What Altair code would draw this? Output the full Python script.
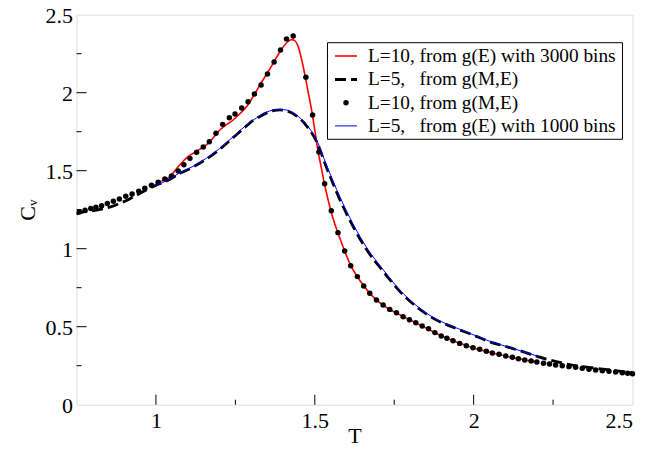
import altair as alt
import pandas as pd

# ---- data ----
dots_T = [0.759, 0.777, 0.795, 0.811, 0.829, 0.847, 0.866, 0.885, 0.905, 0.925,
          0.946, 0.965, 0.986, 1.007, 1.028, 1.049, 1.070, 1.088, 1.107, 1.128,
          1.149, 1.168, 1.189, 1.210, 1.231, 1.249, 1.270, 1.290, 1.310, 1.331,
          1.351, 1.372, 1.392, 1.411, 1.432, 1.472, 1.493, 1.513, 1.531, 1.552,
          1.573, 1.594, 1.613, 1.634, 1.654, 1.673, 1.694, 1.715, 1.736, 1.757,
          1.778, 1.798, 1.818, 1.838, 1.858, 1.878, 1.898, 1.916, 1.935, 1.956,
          1.977, 1.998, 2.019, 2.040, 2.059, 2.080, 2.101, 2.122, 2.141, 2.161,
          2.181, 2.199, 2.220, 2.239, 2.258, 2.279, 2.300, 2.321, 2.342, 2.363,
          2.384, 2.405, 2.426, 2.447, 2.468, 2.485, 2.500]
dots_C = [1.237, 1.246, 1.257, 1.265, 1.276, 1.289, 1.304, 1.319, 1.336, 1.351,
          1.368, 1.387, 1.406, 1.426, 1.447, 1.466, 1.498, 1.538, 1.579, 1.618,
          1.652, 1.686, 1.740, 1.797, 1.840, 1.863, 1.902, 1.942, 1.992, 2.049,
          2.120, 2.197, 2.274, 2.344, 2.363, 2.099, 1.857, 1.620, 1.416, 1.243,
          1.103, 0.985, 0.891, 0.821, 0.761, 0.714, 0.671, 0.639, 0.611, 0.590,
          0.564, 0.545, 0.525, 0.505, 0.487, 0.462, 0.440, 0.426, 0.410, 0.393,
          0.378, 0.365, 0.355, 0.342, 0.331, 0.323, 0.312, 0.304, 0.295, 0.287,
          0.280, 0.274, 0.265, 0.261, 0.254, 0.250, 0.244, 0.240, 0.233, 0.227,
          0.222, 0.218, 0.214, 0.209, 0.205, 0.202, 0.199]

red_T = [1.000, 1.013, 1.040, 1.076, 1.102, 1.117, 1.140, 1.159, 1.180, 1.201,
         1.222, 1.243, 1.264, 1.285, 1.306, 1.327, 1.348, 1.369, 1.385, 1.400,
         1.414, 1.427, 1.437, 1.447, 1.456, 1.469, 1.479, 1.490, 1.500, 1.510,
         1.521, 1.531, 1.542, 1.558, 1.573, 1.594, 1.613, 1.634, 1.654, 1.673,
         1.694, 1.715, 1.736, 1.757, 1.778, 1.800, 1.850, 1.900, 1.950, 2.000,
         2.050, 2.100, 2.150, 2.200]
red_C = [1.418, 1.430, 1.455, 1.540, 1.592, 1.611, 1.640, 1.665, 1.710, 1.761,
         1.795, 1.825, 1.865, 1.910, 1.975, 2.049, 2.118, 2.188, 2.245, 2.292,
         2.325, 2.340, 2.334, 2.300, 2.235, 2.113, 2.006, 1.889, 1.761, 1.628,
         1.515, 1.410, 1.312, 1.190, 1.100, 0.985, 0.893, 0.820, 0.762, 0.714,
         0.672, 0.638, 0.610, 0.588, 0.565, 0.543, 0.492, 0.440, 0.398, 0.364,
         0.336, 0.312, 0.291, 0.273]

dash_T = [0.750, 0.766, 0.790, 0.824, 0.860, 0.887, 0.920, 0.950, 0.975, 0.997,
          1.040, 1.076, 1.117, 1.159, 1.201, 1.243, 1.285, 1.306, 1.327, 1.369,
          1.390, 1.411, 1.442, 1.474, 1.505, 1.537, 1.579, 1.620, 1.663, 1.715,
          1.767, 1.820, 1.872, 1.946, 1.998, 2.050, 2.103, 2.155, 2.202, 2.240,
          2.310, 2.370, 2.430, 2.500]
dash_C = [1.222, 1.233, 1.240, 1.252, 1.270, 1.291, 1.322, 1.355, 1.382, 1.404,
          1.440, 1.483, 1.524, 1.575, 1.638, 1.712, 1.787, 1.822, 1.848, 1.885,
          1.890, 1.884, 1.852, 1.788, 1.690, 1.520, 1.315, 1.145, 0.995, 0.855,
          0.728, 0.628, 0.555, 0.488, 0.447, 0.404, 0.372, 0.340, 0.308, 0.287,
          0.254, 0.238, 0.222, 0.205]

blue_T = [0.997, 1.040, 1.076, 1.117, 1.159, 1.201, 1.243, 1.285, 1.327, 1.369,
          1.390, 1.411, 1.442, 1.474, 1.505, 1.537, 1.579, 1.620, 1.663, 1.715,
          1.767, 1.820, 1.872, 1.946, 1.998, 2.050, 2.103, 2.155, 2.208]
blue_C = [1.404, 1.442, 1.488, 1.528, 1.580, 1.643, 1.718, 1.793, 1.851, 1.889,
          1.893, 1.889, 1.857, 1.795, 1.700, 1.535, 1.332, 1.160, 1.008, 0.866,
          0.737, 0.635, 0.560, 0.492, 0.449, 0.407, 0.373, 0.341, 0.306]

x_labels = [1.0, 1.5, 2.0, 2.5]
x_major = [1.0, 1.5, 2.0]
x_minor = [1.25, 1.75, 2.25]
y_labels = [0.0, 0.5, 1.0, 1.5, 2.0, 2.5]
y_major = [0.5, 1.0, 1.5, 2.0]
y_minor = [0.25, 0.75, 1.25, 1.75, 2.25]

legend_labels = ["L=10, from g(E) with 3000 bins",
                 "L=5,\u00a0\u00a0\u00a0from g(M,E)",
                 "L=10, from g(M,E)",
                 "L=5,\u00a0\u00a0\u00a0from g(E) with 1000 bins"]

# ---- chart ----
W, H = 556, 390
FONT = "Liberation Serif, Times New Roman, Times, serif"
xs = alt.Scale(domain=[0.75, 2.5], nice=False, zero=False)
ys = alt.Scale(domain=[0, 2.5], nice=False, zero=False)

def df(t, c):
    return pd.DataFrame({"T": t, "C": c})

xaxis = alt.Axis(values=x_labels, format=".1~f", ticks=False, domain=False, grid=False,
                 labelFont=FONT, labelFontSize=22, labelColor="black", labelPadding=6,
                 title="T", titleFont=FONT, titleFontSize=22, titleFontWeight="normal",
                 titleColor="black", titleY=38, titleBaseline="alphabetic")
yaxis = alt.Axis(values=y_labels, format=".1~f", ticks=False, domain=False, grid=False,
                 labelFont=FONT, labelFontSize=22, labelColor="black", labelPadding=4,
                 labelOffset=1,
                 title="C\u1d65", titleFont=FONT, titleFontSize=22, titleFontWeight="normal",
                 titleColor="black", titleX=-49, titleY=H / 2, titleAngle=270,
                 titleAlign="center", titleBaseline="middle")

red = alt.Chart(df(red_T, red_C)).mark_line(color="#ff0000", strokeWidth=1.6, interpolate="monotone").encode(
    x=alt.X("T:Q", scale=xs, axis=xaxis), y=alt.Y("C:Q", scale=ys, axis=yaxis), order="T:Q")
dashed = alt.Chart(df(dash_T, dash_C)).mark_line(color="black", strokeWidth=2.8, strokeDash=[11, 5],
                                                interpolate="monotone").encode(
    x=alt.X("T:Q", scale=xs), y=alt.Y("C:Q", scale=ys), order="T:Q")
dots = alt.Chart(df(dots_T, dots_C)).mark_circle(color="black", size=30, opacity=1).encode(
    x=alt.X("T:Q", scale=xs), y=alt.Y("C:Q", scale=ys))
blue = alt.Chart(df(blue_T, blue_C)).mark_line(color="#0000ff", strokeWidth=1.0, interpolate="monotone").encode(
    x=alt.X("T:Q", scale=xs), y=alt.Y("C:Q", scale=ys), order="T:Q")

# inward ticks
def yticks(vals, length):
    return alt.Chart(pd.DataFrame({"v": vals})).mark_rule(color="black", strokeWidth=1).encode(
        y=alt.Y("v:Q", scale=ys), x=alt.value(0), x2=alt.value(length))

def xticks(vals, length):
    return alt.Chart(pd.DataFrame({"v": vals})).mark_rule(color="black", strokeWidth=1).encode(
        x=alt.X("v:Q", scale=xs), y=alt.value(H), y2=alt.value(H - length))

ticks = [yticks(y_major, 10), yticks(y_minor, 5), xticks(x_major, 10), xticks(x_minor, 5)]

# legend
LX0, LX1, LY0, LY1 = 251, 546, 28, 124.6
rows = [41.3, 64.8, 88.0, 111.2]
sym0, sym1, txt = 258.5, 280.5, 291.5
one = [pd.DataFrame({"label": [l]}) for l in legend_labels]
leg = [alt.Chart(one[0]).mark_rect(fill="white", stroke="black", strokeWidth=1).encode(
    x=alt.value(LX0), x2=alt.value(LX1), y=alt.value(LY0), y2=alt.value(LY1))]
leg.append(alt.Chart(one[0]).mark_rule(color="#ff0000", strokeWidth=1.6).encode(
    x=alt.value(sym0), x2=alt.value(sym1), y=alt.value(rows[0])))
leg.append(alt.Chart(one[1]).mark_rule(color="black", strokeWidth=2.8, strokeDash=[11, 5]).encode(
    x=alt.value(sym0), x2=alt.value(sym1), y=alt.value(rows[1])))
leg.append(alt.Chart(one[2]).mark_circle(color="black", size=30, opacity=1).encode(
    x=alt.value((sym0 + sym1) / 2), y=alt.value(rows[2])))
leg.append(alt.Chart(one[3]).mark_rule(color="#0000ff", strokeWidth=1.0).encode(
    x=alt.value(sym0), x2=alt.value(sym1), y=alt.value(rows[3])))
for i in range(4):
    leg.append(alt.Chart(one[i]).mark_text(font=FONT, fontSize=19.3, align="left", baseline="middle",
                                           color="black").encode(
        x=alt.value(txt), y=alt.value(rows[i]), text="label:N"))

chart = alt.layer(red, dashed, dots, blue, *ticks, *leg).properties(
    width=W, height=H,
    autosize=alt.AutoSizeParams(type="none"),
    padding={"left": 68.5, "top": 6.7, "right": 27, "bottom": 46},
).configure_view(stroke="black", strokeWidth=1.3).configure(background="white")

chart.save("out.html", embed_options={"renderer": "svg", "actions": False})
